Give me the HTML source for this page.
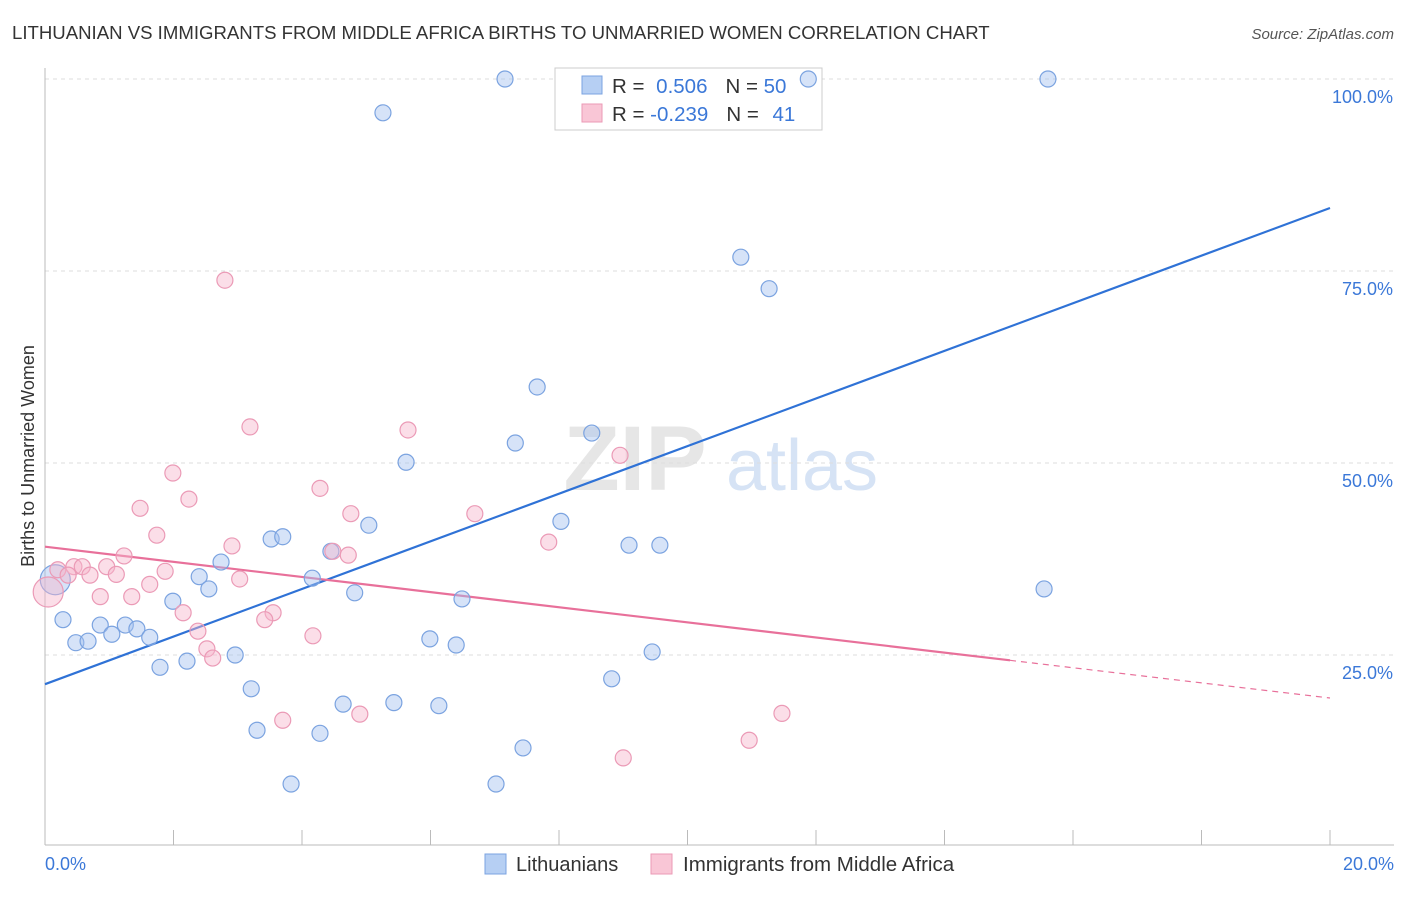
<!DOCTYPE html>
<html><head><meta charset="utf-8"><style>
body{margin:0;background:#fff;font-family:"Liberation Sans",sans-serif;}
svg text{font-family:"Liberation Sans",sans-serif;}
</style></head><body>
<svg id="chart" width="1406" height="892">
<text x="12" y="39" font-size="18.6" fill="#333">LITHUANIAN VS IMMIGRANTS FROM MIDDLE AFRICA BIRTHS TO UNMARRIED WOMEN CORRELATION CHART</text>
<text x="1394" y="39" font-size="15" fill="#555" font-style="italic" text-anchor="end">Source: ZipAtlas.com</text>
<g>
<text x="635" y="490" font-size="92" fill="#e6e6e6" text-anchor="middle" font-family="Liberation Serif" font-weight="bold">ZIP</text>
<text x="802" y="490" font-size="72" fill="#d6e3f5" text-anchor="middle">atlas</text>
</g>
<g id="grid"></g>
<g id="axes"></g>
<text transform="translate(34,456) rotate(-90)" font-size="18" fill="#333" text-anchor="middle">Births to Unmarried Women</text>
<g>
<rect x="555" y="68" width="267" height="62" fill="#fff" stroke="#ccc"/>
<rect x="582" y="76" width="20" height="18" fill="#b6cff3" stroke="#7ba3e0"/>
<rect x="582" y="104" width="20" height="18" fill="#f9c6d6" stroke="#eb9ab6"/>
<text x="612" y="93" font-size="20.5" fill="#333">R = <tspan fill="#3b78d8" dx="6">0.506</tspan><tspan dx="18">N = </tspan><tspan fill="#3b78d8">50</tspan></text>
<text x="612" y="121" font-size="20.5" fill="#333">R = <tspan fill="#3b78d8">-0.239</tspan><tspan dx="18">N = </tspan><tspan fill="#3b78d8" dx="8">41</tspan></text>
</g>
<g id="lines"></g>
<g id="points"></g>
<g>
<rect x="485" y="854" width="21" height="20" fill="#b6cff3" stroke="#7ba3e0"/>
<text x="516" y="871" font-size="20" fill="#333">Lithuanians</text>
<rect x="651" y="854" width="21" height="20" fill="#f9c6d6" stroke="#eb9ab6"/>
<text x="683" y="871" font-size="20.5" fill="#333">Immigrants from Middle Africa</text>
</g>
</svg>
<script>
const blueX=[7.16,11.88,15.61,5.26,10.83,11.27,7.66,7.32,8.51,5.62,5.04,8.03,3.52,3.70,4.45,2.74,9.09,9.57,15.55,2.40,2.55,4.16,4.82,6.49,1.99,0.28,0.86,1.25,1.43,1.04,1.63,0.48,0.67,5.99,6.40,2.96,9.45,2.21,1.79,8.82,3.21,4.64,5.43,6.13,3.30,4.28,7.44,3.83,7.02,0.16];
const blueY=[100,100,100,95.6,76.8,72.7,59.9,52.6,53.9,50.1,41.9,42.4,40.1,40.4,38.5,37.1,39.3,39.3,33.6,35.2,33.6,35.0,33.1,32.3,32.0,29.6,28.9,28.9,28.4,27.7,27.3,26.6,26.8,27.1,26.3,25.0,25.4,24.2,23.4,21.9,20.6,18.6,18.8,18.4,15.2,14.8,12.9,8.2,8.2,34.8];
const pinkX=[2.80,3.19,5.65,8.95,1.99,4.28,2.24,1.48,6.69,4.76,1.74,7.84,2.91,4.48,4.72,1.23,0.20,0.45,0.58,0.96,1.87,0.36,0.70,1.11,3.03,1.63,0.86,1.35,2.15,3.55,3.42,2.38,4.17,2.52,2.61,4.90,3.70,11.47,10.96,9.00,0.05];
const pinkY=[73.8,54.7,54.3,51.0,48.7,46.7,45.3,44.1,43.4,43.4,40.6,39.7,39.2,38.5,38.0,37.9,36.1,36.5,36.5,36.5,35.9,35.4,35.4,35.5,34.9,34.2,32.6,32.6,30.5,30.5,29.6,28.1,27.5,25.8,24.6,17.3,16.5,17.4,13.9,11.6,33.2];
const blueTrend=[21.2,83.2];
const pinkTrend=[39.1,19.4];
const pinkSolidEnd=15.02;
const yTicks=[25,50,75,100];
const yTickLabels=["25.0%","50.0%","75.0%","100.0%"];
const xTickLabels=["0.0%","20.0%"];

const NS="http://www.w3.org/2000/svg";
const sx=v=>45+v/20*1285;
const sy=v=>847-v*7.68;
function mk(tag,attrs,parent){const e=document.createElementNS(NS,tag);for(const k in attrs)e.setAttribute(k,attrs[k]);document.getElementById(parent).appendChild(e);return e;}

yTicks.forEach((t,i)=>{
  const l=mk('line',{x1:45,x2:1394,y1:sy(t),y2:sy(t),stroke:'#ddd','stroke-dasharray':'4,4'},'grid');
  
  
  const tx=mk('text',{x:1393,y:sy(t)+24,'font-size':18,fill:'#3b78d8','text-anchor':'end'},'grid');
  tx.textContent=yTickLabels[i];
  
  
});
const ya=mk('line',{x1:45,x2:45,y1:68,y2:845,stroke:'#bbb'},'axes');


const xa=mk('line',{x1:45,x2:1394,y1:845,y2:845,stroke:'#bbb'},'axes');


for(let v=0;v<=20;v+=2){
  const t=mk('line',{x1:sx(v),x2:sx(v),y1:830,y2:845,stroke:'#bbb'},'axes');
  
  
}
[[0,'start',45],[20,'end',1394]].forEach((d,i)=>{
  const t=mk('text',{x:d[2],y:870,'font-size':18,fill:'#3b78d8','text-anchor':d[1]},'axes');
  t.textContent=xTickLabels[i];
  
  
});

const bl=mk('line',{x1:sx(0),y1:sy(blueTrend[0]),x2:sx(20),y2:sy(blueTrend[1]),stroke:'#2f72d6','stroke-width':2.2},'lines');


const pAt=x=>pinkTrend[0]+(pinkTrend[1]-pinkTrend[0])*x/20;
const pl=mk('line',{x1:sx(0),y1:sy(pinkTrend[0]),x2:sx(pinkSolidEnd),y2:sy(pAt(pinkSolidEnd)),stroke:'#e8709a','stroke-width':2.2},'lines');


const pd=mk('line',{x1:sx(pinkSolidEnd),y1:sy(pAt(pinkSolidEnd)),x2:sx(20),y2:sy(pinkTrend[1]),stroke:'#e8709a','stroke-width':1.2,'stroke-dasharray':'6,5'},'lines');



blueX.forEach((x,i)=>{
  const big=i===blueX.length-1;
  const c=mk('circle',{cx:sx(x),cy:sy(blueY[i]),r:big?15:8,fill:'rgba(164,194,240,0.45)',stroke:'#7ba3e0','stroke-width':1.2},'points');
  
  
});
pinkX.forEach((x,i)=>{
  const big=i===pinkX.length-1;
  const c=mk('circle',{cx:sx(x),cy:sy(pinkY[i]),r:big?15:8,fill:'rgba(247,182,205,0.45)',stroke:'#eb9ab6','stroke-width':1.2},'points');
  
  
});
</script>
</body></html>
